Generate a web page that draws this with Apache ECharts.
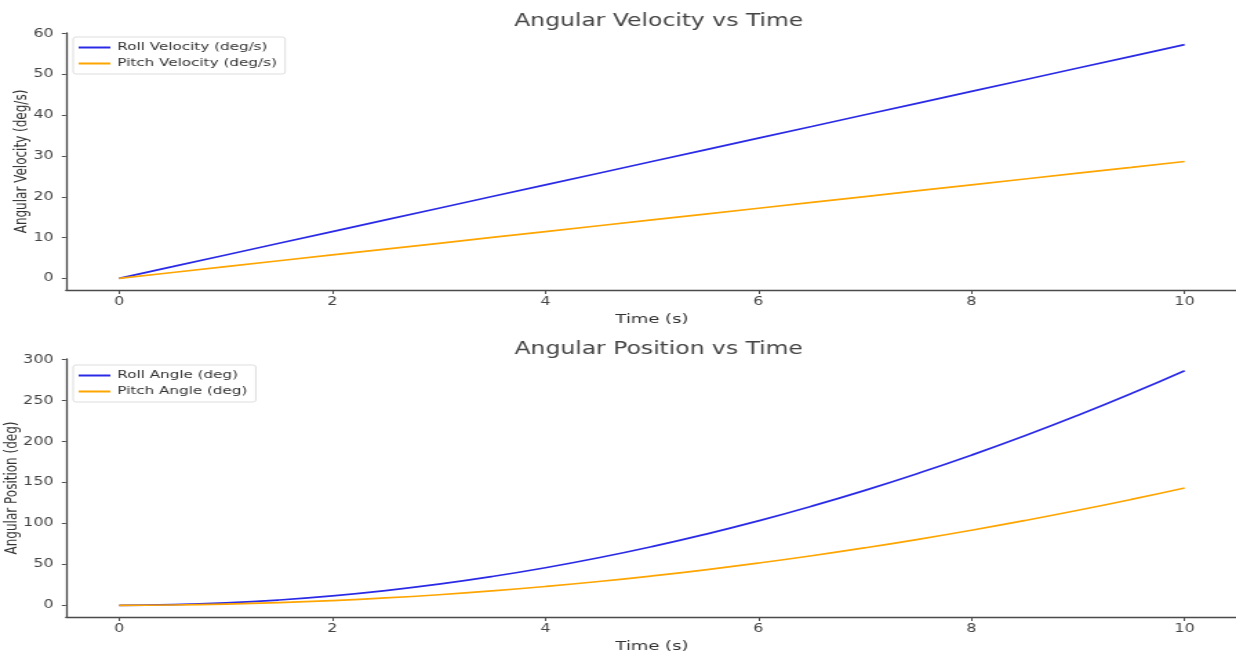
<!DOCTYPE html>
<html><head><meta charset="utf-8">
<script src="https://cdn.jsdelivr.net/npm/echarts@6/dist/echarts.min.js"></script>
<style>html,body{margin:0;padding:0;background:#fff;overflow:hidden}
#c{width:896px;height:653px;transform:scaleX(1.3795);transform-origin:0 0}</style>
</head><body><div id="c"></div>
<script>
const times = [0,0.5,1,1.5,2,2.5,3,3.5,4,4.5,5,5.5,6,6.5,7,7.5,8,8.5,9,9.5,10];
const rollVelocity = [0,2.86,5.73,8.59,11.46,14.32,17.19,20.05,22.92,25.78,28.65,31.51,34.38,37.24,40.11,42.97,45.84,48.70,51.57,54.43,57.30];
const pitchVelocity = [0,1.43,2.86,4.30,5.73,7.16,8.59,10.03,11.46,12.89,14.32,15.76,17.19,18.62,20.05,21.49,22.92,24.35,25.78,27.21,28.65];
const rollAngle = [0,0.72,2.86,6.45,11.46,17.90,25.78,35.10,45.84,58.01,71.62,86.66,103.13,121.04,140.37,161.14,183.35,206.98,232.05,258.55,286.48];
const pitchAngle = [0,0.36,1.43,3.22,5.73,8.95,12.89,17.55,22.92,29.00,35.81,43.33,51.57,60.52,70.19,80.57,91.67,103.49,116.02,129.27,143.24];
const xTicks = [0,2,4,6,8,10];
const velTicks = [0,10,20,30,40,50,60];
const posTicks = [0,50,100,150,200,250,300];

const pair = (xs, ys) => xs.map((x, i) => [x, ys[i]]);
const FONT = 'DejaVu Sans';
const axisCol = '#4a4a4a';
function xAx(gi){
  return {type:'value', gridIndex:gi, min:-0.5, max:10.5, name:'Time (s)', nameLocation:'middle', nameGap:23,
    nameMoveOverlap:false,
    nameTextStyle:{fontFamily:FONT,fontSize:13,color:'#333'},
    axisLine:{show:true,onZero:false,lineStyle:{color:axisCol,width:1.3}},
    axisTick:{show:true,length:4,customValues:xTicks,lineStyle:{color:axisCol}},
    axisLabel:{customValues:xTicks,fontFamily:FONT,fontSize:11.5,color:'#444',margin:6},
    splitLine:{show:false}};
}
function yAx(gi,min,max,ticks,name,gap){
  return {type:'value', gridIndex:gi, min:min, max:max, name:name, nameLocation:'middle', nameGap:gap,
    nameMoveOverlap:false,
    nameTextStyle:{fontFamily:FONT,fontSize:12,color:'#333'},
    axisLine:{show:true,onZero:false,lineStyle:{color:axisCol,width:1.3}},
    axisTick:{show:true,length:3,customValues:ticks,lineStyle:{color:axisCol}},
    axisLabel:{customValues:ticks,fontFamily:FONT,fontSize:11.5,color:'#444',margin:9},
    splitLine:{show:false}};
}
const legendBase = {orient:'vertical', left:53, itemWidth:23, itemHeight:2, itemGap:5,
  backgroundColor:'#fff', borderColor:'#ddd', borderWidth:1, borderRadius:2, padding:[5,6,5,4],
  textStyle:{fontFamily:FONT,fontSize:11,color:'#333'}, icon:'rect'};
const chart = echarts.init(document.getElementById('c'), null, {renderer:'canvas'});
chart.setOption({
  animation:false,
  title:[
    {text:'Angular Velocity vs Time', left:472.5, top:8, textAlign:'center', textStyle:{fontFamily:FONT,fontSize:17,fontWeight:'normal',color:'#444'}},
    {text:'Angular Position vs Time', left:472.5, top:336, textAlign:'center', textStyle:{fontFamily:FONT,fontSize:17,fontWeight:'normal',color:'#444'}}
  ],
  grid:[
    {left:47.8, top:33, right:-1.3, height:257, outerBoundsMode:'none'},
    {left:47.8, top:359, right:-1.3, height:258, outerBoundsMode:'none'}
  ],
  legend:[
    Object.assign({}, legendBase, {top:37, data:['Roll Velocity (deg/s)','Pitch Velocity (deg/s)']}),
    Object.assign({}, legendBase, {top:365, data:['Roll Angle (deg)','Pitch Angle (deg)']})
  ],
  xAxis:[xAx(0), xAx(1)],
  yAxis:[yAx(0,-2.865,60.16,velTicks,'Angular Velocity (deg/s)',26), yAx(1,-14.32,300.8,posTicks,'Angular Position (deg)',33)],
  series:[
    {name:'Roll Velocity (deg/s)', type:'line', xAxisIndex:0, yAxisIndex:0, data:pair(times,rollVelocity), showSymbol:false, lineStyle:{color:'#2a2ae6',width:1.7}, itemStyle:{color:'#2a2ae6'}},
    {name:'Pitch Velocity (deg/s)', type:'line', xAxisIndex:0, yAxisIndex:0, data:pair(times,pitchVelocity), showSymbol:false, lineStyle:{color:'#ffa500',width:1.7}, itemStyle:{color:'#ffa500'}},
    {name:'Roll Angle (deg)', type:'line', xAxisIndex:1, yAxisIndex:1, data:pair(times,rollAngle), smooth:true, showSymbol:false, lineStyle:{color:'#2a2ae6',width:1.7}, itemStyle:{color:'#2a2ae6'}},
    {name:'Pitch Angle (deg)', type:'line', xAxisIndex:1, yAxisIndex:1, data:pair(times,pitchAngle), smooth:true, showSymbol:false, lineStyle:{color:'#ffa500',width:1.7}, itemStyle:{color:'#ffa500'}}
  ]
});
</script></body></html>
